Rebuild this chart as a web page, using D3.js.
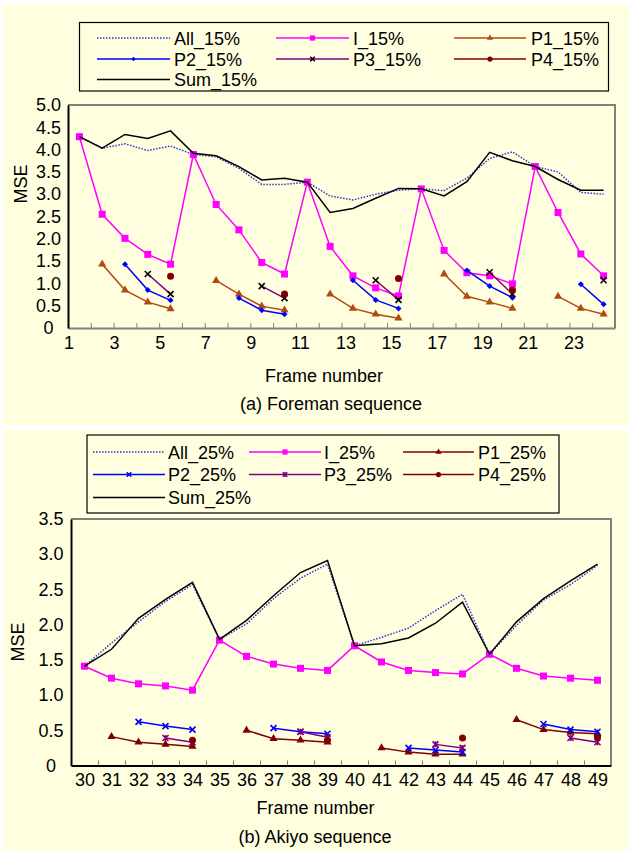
<!DOCTYPE html>
<html><head><meta charset="utf-8">
<script src="https://cdn.jsdelivr.net/npm/d3@7"></script>
<style>
html,body{margin:0;padding:0;background:#fff;}
svg{display:block;font-family:"Liberation Sans",Arial,sans-serif;}
</style></head>
<body>
<svg id="chart" width="629" height="859"></svg>
<script>
// ---------- DATA: (a) Foreman, 15% ----------
const framesA = [1,2,3,4,5,6,7,8,9,10,11,12,13,14,15,16,17,18,19,20,21,22,23,24];
const tickLabelsA = [1,3,5,7,9,11,13,15,17,19,21,23];
const all15 = [4.29,4.03,4.13,3.98,4.08,3.89,3.84,3.58,3.22,3.22,3.27,2.96,2.87,3.00,3.09,3.12,3.08,3.36,3.80,3.95,3.62,3.50,3.04,3.00];
const i15   = [4.29,2.55,2.01,1.65,1.43,3.89,2.77,2.20,1.47,1.21,3.27,1.83,1.17,0.90,0.72,3.12,1.74,1.24,1.17,0.99,3.62,2.59,1.66,1.17];
const p1_15 = [null,1.43,0.85,0.58,0.43,null,1.06,0.76,0.49,0.40,null,0.76,0.44,0.31,0.22,null,1.21,0.71,0.58,0.44,null,0.71,0.44,0.31];
const p2_15 = [null,null,1.43,0.85,0.62,null,null,0.67,0.40,0.31,null,null,1.07,0.63,0.44,null,null,1.29,0.94,0.68,null,null,0.98,0.53];
const p3_15 = [null,null,null,1.21,0.76,null,null,null,0.94,0.67,null,null,null,1.07,0.63,null,null,null,1.25,0.76,null,null,null,1.07];
const p4_15 = [null,null,null,null,1.16,null,null,null,null,0.76,null,null,null,null,1.11,null,null,null,null,0.85,null,null,null,null];
const sum15 = [4.29,4.03,4.34,4.25,4.42,3.92,3.86,3.62,3.32,3.36,3.27,2.59,2.68,2.91,3.13,3.12,2.96,3.28,3.94,3.75,3.62,3.33,3.09,3.09];
const yTicksA = [0,0.5,1.0,1.5,2.0,2.5,3.0,3.5,4.0,4.5,5.0];

// ---------- DATA: (b) Akiyo, 25% ----------
const framesB = [30,31,32,33,34,35,36,37,38,39,40,41,42,43,44,45,46,47,48,49];
const all25 = [1.41,1.74,2.04,2.33,2.57,1.79,2.01,2.37,2.66,2.86,1.70,1.82,1.95,2.20,2.43,1.58,1.99,2.35,2.57,2.84];
const i25   = [1.41,1.24,1.16,1.13,1.07,1.78,1.55,1.44,1.38,1.35,1.70,1.47,1.35,1.32,1.30,1.58,1.38,1.27,1.24,1.21];
const p1_25 = [null,0.41,0.33,0.30,0.27,null,0.50,0.38,0.36,0.33,null,0.25,0.19,0.16,0.16,null,0.65,0.51,0.47,0.45];
const p2_25 = [null,null,0.62,0.56,0.51,null,null,0.53,0.48,0.45,null,null,0.25,0.22,0.19,null,null,0.59,0.51,0.48];
const p3_25 = [null,null,null,0.39,0.33,null,null,null,0.48,0.40,null,null,null,0.30,0.25,null,null,null,0.39,0.33];
const p4_25 = [null,null,null,null,0.36,null,null,null,null,0.36,null,null,null,null,0.39,null,null,null,null,0.40];
const sum25 = [1.41,1.65,2.09,2.36,2.60,1.79,2.06,2.41,2.74,2.91,1.70,1.73,1.81,2.02,2.32,1.58,2.04,2.37,2.62,2.86];
const yTicksB = [0,0.5,1.0,1.5,2.0,2.5,3.0,3.5];

// ---------- drawing ----------
const svg = d3.select("#chart");
const CREAM = "#ffffe0";
const FS = 18;

function marker(g, type, x, y, color, s) {
  if (type === "square") {
    g.append("rect").attr("x", x - s/2).attr("y", y - s/2).attr("width", s).attr("height", s).attr("fill", color);
  } else if (type === "triangle") {
    const p = d3.symbol(d3.symbolTriangle, s*s*0.45)();
    g.append("path").attr("d", p).attr("transform", `translate(${x},${y})`).attr("fill", color);
  } else if (type === "diamond") {
    const h = s/2;
    g.append("path").attr("d", `M${x},${y-h}L${x+h},${y}L${x},${y+h}L${x-h},${y}Z`).attr("fill", color);
  } else if (type === "circle") {
    g.append("circle").attr("cx", x).attr("cy", y).attr("r", s/2).attr("fill", color);
  } else if (type === "x") {
    const h = s/2;
    g.append("path").attr("d", `M${x-h},${y-h}L${x+h},${y+h}M${x-h},${y+h}L${x+h},${y-h}`)
      .attr("stroke", color).attr("stroke-width", 1.6).attr("fill", "none");
  } else if (type === "star") {
    const h = s/2;
    g.append("path").attr("d", `M${x-h},${y-h}L${x+h},${y+h}M${x-h},${y+h}L${x+h},${y-h}M${x},${y-h}L${x},${y+h}`)
      .attr("stroke", color).attr("stroke-width", 1.6).attr("fill", "none");
  }
}

function drawPanel(cfg) {
  const g = svg.append("g");
  g.append("rect").attr("x", cfg.bg[0]).attr("y", cfg.bg[1]).attr("width", cfg.bg[2]).attr("height", cfg.bg[3]).attr("fill", CREAM);

  const y = d3.scaleLinear().domain([0, cfg.ymax]).range([cfg.y0, cfg.y1]);
  const x = d3.scaleLinear().domain([cfg.cats[0] - 0.5, cfg.cats[cfg.cats.length-1] + 0.5]).range([cfg.x0, cfg.x1]);

  g.append("path").attr("d", `M${cfg.x0},${cfg.y1}H${cfg.x1}V${cfg.y0}`).attr("fill", "none").attr("stroke", "#808080").attr("stroke-width", 2);

  const bounds = cfg.cats.map(c => c - 0.5).concat([cfg.cats[cfg.cats.length-1] + 0.5]);
  const xAx = g.append("g").attr("transform", `translate(0,${cfg.y0})`)
    .call(d3.axisBottom(x).tickValues(bounds).tickSizeInner(-5).tickSizeOuter(0).tickFormat(cfg.tickFmt));
  xAx.select(".domain").attr("stroke", cfg.xAxisColor).attr("stroke-width", 2);
  xAx.selectAll(".tick line").attr("stroke", "#808080").attr("stroke-width", 1);
  xAx.selectAll(".tick text").attr("font-size", FS).attr("font-family", "Liberation Sans, Arial, sans-serif")
    .attr("fill", "#000").attr("y", 8).attr("dy", "0.71em");
  if (cfg.labelsCentered) {
    const xl = g.append("g").attr("transform", `translate(0,${cfg.y0})`)
      .call(d3.axisBottom(x).tickValues(cfg.cats).tickSize(0).tickFormat(d => d));
    xl.select(".domain").remove();
    xl.selectAll(".tick text").attr("font-size", FS).attr("font-family", "Liberation Sans, Arial, sans-serif")
      .attr("fill", "#000").attr("y", 8).attr("dy", "0.71em");
  } else {
    xAx.selectAll(".tick text").attr("x", function() { return this.textContent.length > 1 ? 4 : 0.5; });
  }

  const yAx = g.append("g").attr("transform", `translate(${cfg.x0},0)`)
    .call(d3.axisLeft(y).tickValues(cfg.yTicks).tickSize(0).tickFormat(d => d === 0 ? "0" : d.toFixed(1)));
  yAx.select(".domain").attr("stroke", "#000").attr("stroke-width", 2);
  yAx.selectAll(".tick text").attr("font-size", FS).attr("font-family", "Liberation Sans, Arial, sans-serif")
    .attr("fill", "#000").attr("text-anchor", "middle").attr("x", cfg.yLabelX - cfg.x0);

  const lineGen = d3.line().defined(d => d.v != null).x(d => x(d.c)).y(d => y(d.v));
  cfg.series.forEach(s => {
    const pts = cfg.cats.map((c, i) => ({c, v: s.values[i]}));
    g.append("path").datum(pts).attr("d", lineGen).attr("fill", "none")
      .attr("stroke", s.color).attr("stroke-width", s.width || 1.5)
      .attr("stroke-dasharray", s.dash || null);
    if (s.marker) {
      pts.filter(p => p.v != null).forEach(p => marker(g, s.marker, x(p.c), y(p.v), s.mcolor || s.color, s.msize));
    }
  });

  g.append("text").attr("transform", `translate(${cfg.mse[0]},${cfg.mse[1]}) rotate(-90)`)
    .attr("text-anchor", "middle").attr("dy", "0.35em").attr("font-size", 18).text("MSE");
  g.append("text").attr("x", cfg.xt[0]).attr("y", cfg.xt[1]).attr("text-anchor", "middle").attr("font-size", 18).text("Frame number");
  g.append("text").attr("x", cfg.cap[0]).attr("y", cfg.cap[1]).attr("text-anchor", "middle").attr("font-size", 18).text(cfg.caption);

  const L = cfg.legend;
  g.append("rect").attr("x", L.box[0]).attr("y", L.box[1]).attr("width", L.box[2]).attr("height", L.box[3])
    .attr("fill", CREAM).attr("stroke", "#000").attr("stroke-width", 1.2);
  cfg.series.forEach((s, i) => {
    const col = i % 3, row = Math.floor(i / 3);
    const lx0 = L.cols[col][0], lx1 = L.cols[col][1], tx = L.cols[col][2];
    const base = L.rows[row];
    const ly = base - 6.5;
    g.append("line").attr("x1", lx0).attr("x2", lx1).attr("y1", ly).attr("y2", ly)
      .attr("stroke", s.color).attr("stroke-width", s.width || 1.5).attr("stroke-dasharray", s.dash || null);
    if (s.marker) marker(g, s.marker, (lx0 + lx1) / 2, ly, s.mcolor || s.color, s.msize * 0.75);
    g.append("text").attr("x", tx).attr("y", base).attr("font-size", 18).text(s.name);
  });
}

drawPanel({
  bg: [3, 5, 626, 420],
  cats: framesA, ymax: 5, yTicks: yTicksA,
  x0: 68, x1: 615, y0: 328, y1: 105,
  xAxisColor: "#808080",
  tickFmt: d => { const k = d + 0.5; return tickLabelsA.includes(k) ? String(k) : ""; },
  labelsCentered: false,
  yLabelX: 48.5,
  mse: [21, 184], xt: [324, 382], cap: [331, 410],
  caption: "(a) Foreman sequence",
  series: [
    {name: "All_15%", values: all15, color: "#3333cc", dash: "1.5,1.5", width: 1.5},
    {name: "I_15%", values: i15, color: "#ff00ff", marker: "square", msize: 7},
    {name: "P1_15%", values: p1_15, color: "#b04a10", marker: "triangle", msize: 8},
    {name: "P2_15%", values: p2_15, color: "#0000ff", marker: "diamond", msize: 6},
    {name: "P3_15%", values: p3_15, color: "#800080", marker: "x", mcolor: "#000", msize: 6},
    {name: "P4_15%", values: p4_15, color: "#800000", marker: "circle", msize: 7},
    {name: "Sum_15%", values: sum15, color: "#000000", width: 1.5}
  ],
  legend: {box: [79.5, 22.5, 529, 68.5], rows: [44.5, 65.5, 86],
    cols: [[97, 170, 174], [276, 349, 353], [454, 526, 531]]}
});

drawPanel({
  bg: [3, 430, 626, 421],
  cats: framesB, ymax: 3.5, yTicks: yTicksB,
  x0: 71, x1: 611, y0: 765.5, y1: 519,
  xAxisColor: "#000",
  tickFmt: () => "",
  labelsCentered: true,
  yLabelX: 51,
  mse: [18, 642], xt: [315.5, 814], cap: [315, 843],
  caption: "(b) Akiyo sequence",
  series: [
    {name: "All_25%", values: all25, color: "#3333cc", dash: "1.5,1.5", width: 1.5},
    {name: "I_25%", values: i25, color: "#ff00ff", marker: "square", msize: 7},
    {name: "P1_25%", values: p1_25, color: "#800000", marker: "triangle", msize: 8},
    {name: "P2_25%", values: p2_25, color: "#0000ff", marker: "x", msize: 6},
    {name: "P3_25%", values: p3_25, color: "#800080", marker: "star", msize: 6},
    {name: "P4_25%", values: p4_25, color: "#800000", marker: "circle", msize: 7},
    {name: "Sum_25%", values: sum25, color: "#000000", width: 1.5}
  ],
  legend: {box: [87, 435, 472, 78], rows: [458.5, 481, 504],
    cols: [[93, 165, 168], [249, 321, 324], [403, 474, 478]]}
});
</script>
</body></html>
